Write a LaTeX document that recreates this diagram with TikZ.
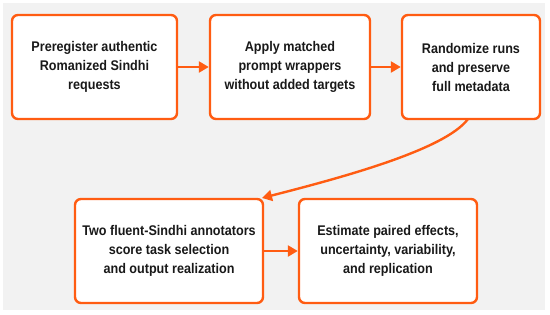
\documentclass[tikz,border=0pt]{standalone}
\usepackage{fontspec}
\setmainfont{Liberation Sans}[FakeStretch=0.9]
\usetikzlibrary{arrows.meta}
\definecolor{orng}{RGB}{255,92,18}
\definecolor{panel}{RGB}{242,242,242}
\tikzset{
  stepbox/.style={draw=orng, line width=2.4pt, fill=white, rounded corners=6pt,
    align=center, font=\bfseries\fontsize{14}{19}\selectfont, text=black!90, inner sep=0pt},
  flow/.style={draw=orng, line width=2.4pt, -{Triangle[length=10pt,width=11pt]}}
}
\begin{document}
\begin{tikzpicture}[x=1pt,y=-1pt]
\useasboundingbox (0,0) rectangle (550,314);
\fill[white] (0,0) rectangle (550,314);
\fill[panel] (3,3) rectangle (545,310);
\node[stepbox, minimum width=165pt, minimum height=104pt] (b1) at (94.5,67)
  {Preregister authentic\\Romanized Sindhi\\requests};
\node[stepbox, minimum width=160pt, minimum height=104pt] (b2) at (290,67)
  {Apply matched\\prompt wrappers\\without added targets};
\node[stepbox, minimum width=138pt, minimum height=104pt] (b3) at (471,67)
  {Randomize runs\\and preserve\\full metadata};
\node[stepbox, minimum width=188pt, minimum height=104pt] (b4) at (169,251)
  {Two fluent-Sindhi annotators\\score task selection\\and output realization};
\node[stepbox, minimum width=178pt, minimum height=104pt] (b5) at (388,251)
  {Estimate paired effects,\\uncertainty, variability,\\and replication};
\coordinate (c3) at (468,119);
\coordinate (c4) at (262,198);
\draw[flow] (b1.east) -- (b2.west);
\draw[flow] (b2.east) -- (b3.west);
\draw[flow] (c3) .. controls (445,150) and (340,178) .. (c4);
\draw[flow] (b4.east) -- (b5.west);
\end{tikzpicture}
\end{document}
